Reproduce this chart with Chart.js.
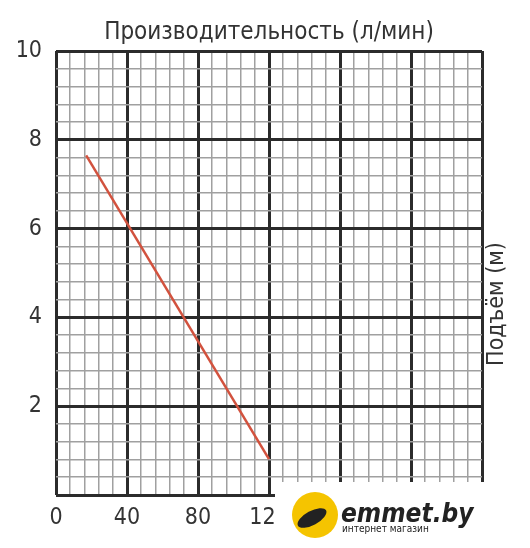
<!DOCTYPE html>
<html>
<head>
<meta charset="utf-8">
<script src="https://cdn.jsdelivr.net/npm/chart.js@4.4.1/dist/chart.umd.min.js"></script>
<style>
  html, body { margin: 0; padding: 0; background: #fff; }
  #wrap { width: 530px; height: 548px; }
</style>
</head>
<body>
<div id="wrap"><canvas id="pumpChart" width="530" height="548"></canvas></div>
<script>
// Flow (l/min) vs head (m)
const flowValues = [17, 120];
const headValues = [7.65, 0.81];
const xMajorTicks = [0, 40, 80, 120, 160, 200, 240];
const yMajorTicks = [0, 2, 4, 6, 8, 10];
const yLabelTicks = [2, 4, 6, 8, 10];

const FONT = '"Liberation Sans Narrow", "DejaVu Sans Condensed", "Arial Narrow", sans-serif';
const TEXT = "#333";

function isMajor(value, list) {
    return list.some(t => Math.abs(t - value) < 1e-6);
}

// Titles and the shop logo that covers the lower right corner
const decorPlugin = {
    id: "decor",
    afterDraw(chart) {
        const ctx = chart.ctx;
        const area = chart.chartArea;
        ctx.save();
        ctx.fillStyle = TEXT;
        ctx.font = "24px " + FONT;
        ctx.textAlign = "center";
        ctx.textBaseline = "middle";
        ctx.fillText("Производительность (л/мин)", (area.left + area.right) / 2, 33);

        ctx.translate(497, 304);
        ctx.rotate(-Math.PI / 2);
        ctx.font = "23px " + FONT;
        ctx.fillText("Подъём (м)", 0, 0);
        ctx.restore();

        // logo box
        ctx.save();
        ctx.fillStyle = "#fff";
        ctx.fillRect(275, 482, 255, 66);
        ctx.beginPath();
        ctx.fillStyle = "#f5c400";
        ctx.arc(315, 515, 23, 0, Math.PI * 2);
        ctx.fill();
        ctx.fillStyle = "#222";
        ctx.beginPath();
        ctx.ellipse(312, 518, 16, 7, -0.5, 0, Math.PI * 2);
        ctx.fill();
        ctx.font = "italic bold 26px " + FONT;
        ctx.textAlign = "left";
        ctx.textBaseline = "alphabetic";
        ctx.fillText("emmet.by", 341, 522);
        ctx.font = "10px " + FONT;
        ctx.fillText("интернет магазин", 342, 532);
        ctx.restore();
    }
};

new Chart(document.getElementById("pumpChart").getContext("2d"), {
    type: "scatter",
    data: {
        datasets: [{
            data: flowValues.map((x, i) => ({ x: x, y: headValues[i] })),
            showLine: true,
            borderColor: "#d2523e",
            borderWidth: 2.5,
            pointRadius: 0
        }]
    },
    options: {
        responsive: false,
        animation: false,
        layout: { padding: { top: 51, right: 48, left: 0, bottom: 0 } },
        plugins: {
            legend: { display: false },
            tooltip: { enabled: false }
        },
        scales: {
            x: {
                type: "linear",
                min: 0,
                max: 240,
                border: { display: false },
                afterFit: scale => { scale.height = 53; },
                ticks: {
                    stepSize: 8,
                    autoSkip: false,
                    maxRotation: 0,
                    padding: 9,
                    color: TEXT,
                    font: { family: FONT, size: 23 },
                    callback: v => isMajor(v, xMajorTicks) ? String(v) : ""
                },
                grid: {
                    drawTicks: false,
                    color: c => isMajor(c.tick.value, xMajorTicks) ? "#2b2b2b" : "#a0a0a0",
                    lineWidth: c => isMajor(c.tick.value, xMajorTicks) ? 3 : 1.5
                }
            },
            y: {
                type: "linear",
                min: 0,
                max: 10,
                border: { display: false },
                afterFit: scale => { scale.width = 56; },
                ticks: {
                    stepSize: 0.4,
                    autoSkip: false,
                    padding: 14,
                    color: TEXT,
                    font: { family: FONT, size: 23 },
                    callback: v => isMajor(v, yLabelTicks) ? String(Math.round(v)) : ""
                },
                grid: {
                    drawTicks: false,
                    color: c => isMajor(c.tick.value, yMajorTicks) ? "#2b2b2b" : "#a0a0a0",
                    lineWidth: c => isMajor(c.tick.value, yMajorTicks) ? 3 : 1.5
                }
            }
        }
    },
    plugins: [decorPlugin]
});
</script>
</body>
</html>
